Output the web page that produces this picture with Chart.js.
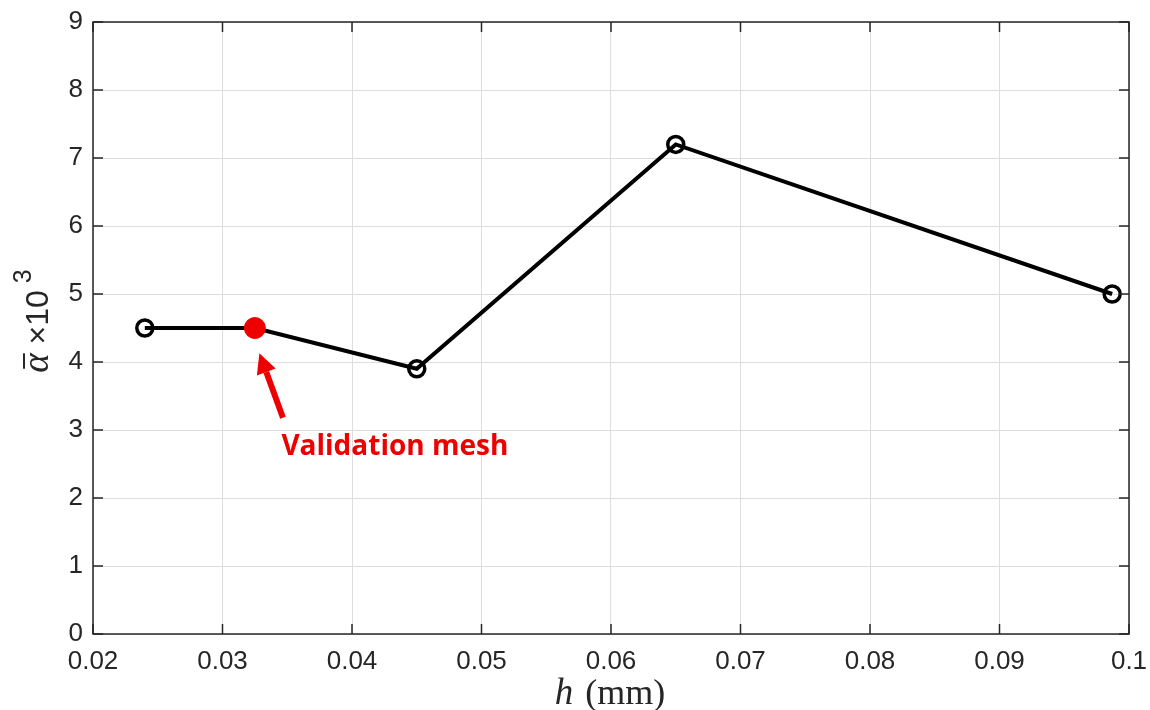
<!DOCTYPE html>
<html>
<head>
<meta charset="utf-8">
<script src="https://cdn.jsdelivr.net/npm/chart.js@4"></script>
<style>
html,body{margin:0;padding:0;background:#fff;}
#wrap{width:1150px;height:710px;position:relative;}
</style>
</head>
<body>
<div id="wrap"><canvas id="c" width="1150" height="710"></canvas></div>
<script>
const hValues = [0.024, 0.0325, 0.045, 0.065, 0.0987];
const alphaValues = [4.5, 4.5, 3.9, 7.2, 5.0];
const validationIndex = 1;
const xTicks = [0.02, 0.03, 0.04, 0.05, 0.06, 0.07, 0.08, 0.09, 0.1];
const yTicks = [0, 1, 2, 3, 4, 5, 6, 7, 8, 9];
const annotationText = "Validation mesh";
const arrowTip = {x: 0.03285, y: 4.13};
const arrowTail = {x: 0.03467, y: 3.18};
const textAnchor = {x: 0.03455, y: 2.75};

const AXIS_COLOR = '#262626';
const RED = '#ee0000';

const boxPlugin = {
  id: 'boxPlugin',
  afterDatasetsDraw(chart) {
    const ctx = chart.ctx;
    const a = chart.chartArea;
    const xs = chart.scales.x, ys = chart.scales.y;
    ctx.save();
    ctx.strokeStyle = AXIS_COLOR;
    ctx.lineWidth = 1.5;
    ctx.strokeRect(a.left, a.top, a.right - a.left, a.bottom - a.top);
    const tl = 10;
    ctx.beginPath();
    xTicks.forEach(v => {
      const px = xs.getPixelForValue(v);
      ctx.moveTo(px, a.bottom); ctx.lineTo(px, a.bottom - tl);
      ctx.moveTo(px, a.top); ctx.lineTo(px, a.top + tl);
    });
    yTicks.forEach(v => {
      const py = ys.getPixelForValue(v);
      ctx.moveTo(a.left, py); ctx.lineTo(a.left + tl, py);
      ctx.moveTo(a.right, py); ctx.lineTo(a.right - tl, py);
    });
    ctx.stroke();

    // arrow
    const tx = xs.getPixelForValue(arrowTip.x), ty = ys.getPixelForValue(arrowTip.y);
    const sx = xs.getPixelForValue(arrowTail.x), sy = ys.getPixelForValue(arrowTail.y);
    const ang = Math.atan2(ty - sy, tx - sx);
    const headLen = 20, headW = 10;
    const bx = tx - headLen * Math.cos(ang), by = ty - headLen * Math.sin(ang);
    ctx.strokeStyle = RED; ctx.fillStyle = RED;
    ctx.lineWidth = 6;
    ctx.beginPath(); ctx.moveTo(sx, sy); ctx.lineTo(bx, by); ctx.stroke();
    ctx.beginPath();
    ctx.moveTo(tx, ty);
    ctx.lineTo(bx + headW * Math.sin(ang), by - headW * Math.cos(ang));
    ctx.lineTo(bx - headW * Math.sin(ang), by + headW * Math.cos(ang));
    ctx.closePath(); ctx.fill();

    // annotation text
    ctx.font = 'bold 28px "Open Sans", "Liberation Sans", sans-serif';
    ctx.textBaseline = 'middle';
    ctx.textAlign = 'left';
    ctx.fillText(annotationText, xs.getPixelForValue(textAnchor.x), ys.getPixelForValue(textAnchor.y));

    // x axis title
    ctx.fillStyle = AXIS_COLOR;
    ctx.textBaseline = 'alphabetic';
    const ityl = 'italic 37px "Liberation Serif", "DejaVu Serif", serif';
    const rom = '36px "Liberation Serif", "DejaVu Serif", serif';
    ctx.font = ityl; const w1 = ctx.measureText('h').width;
    const gap = 12;
    ctx.font = rom; const w2 = ctx.measureText('(mm)').width;
    const cx = 610;
    let x0 = cx - (w1 + gap + w2) / 2;
    const baseY = 704;
    ctx.font = ityl; ctx.fillText('h', x0, baseY);
    ctx.font = rom; ctx.fillText('(mm)', x0 + w1 + gap, baseY);

    // y axis title
    ctx.save();
    ctx.translate(48, 321);
    ctx.rotate(-Math.PI / 2);
    const f1 = 'italic 37px "Liberation Serif", "DejaVu Serif", serif';
    const f2 = '32px "Liberation Sans", Arial, sans-serif';
    const f3 = '25px "Liberation Sans", Arial, sans-serif';
    ctx.font = f1; const wa = ctx.measureText('\u03B1').width;
    ctx.font = f2; const wb = ctx.measureText(' \u00D710').width;
    ctx.font = f3; const wc = ctx.measureText(' 3').width;
    let yx = -(wa + wb + wc) / 2;
    ctx.fillStyle = AXIS_COLOR;
    ctx.font = f1; ctx.fillText('\u03B1', yx, 0);
    ctx.fillRect(yx + 4, -25, wa - 4, 2);
    ctx.font = f2; ctx.fillText(' \u00D710', yx + wa, 0);
    ctx.font = f3; ctx.fillText(' 3', yx + wa + wb, -17);
    ctx.restore();

    ctx.restore();
  }
};

const pts = hValues.map((h, i) => ({x: h, y: alphaValues[i]}));
const bg = hValues.map((_, i) => i === validationIndex ? RED : 'rgba(0,0,0,0)');
const bc = hValues.map((_, i) => i === validationIndex ? RED : '#000000');
const rad = hValues.map((_, i) => i === validationIndex ? 10.5 : 8);
const bw = hValues.map((_, i) => i === validationIndex ? 1 : 3.5);

new Chart(document.getElementById('c'), {
  type: 'scatter',
  data: {
    datasets: [{
      data: pts,
      showLine: true,
      borderColor: '#000000',
      borderWidth: 4,
      pointBackgroundColor: bg,
      pointBorderColor: bc,
      pointRadius: rad,
      pointBorderWidth: bw,
      pointHoverRadius: rad,
      tension: 0
    }]
  },
  options: {
    responsive: false,
    animation: false,
    devicePixelRatio: 1,
    layout: {padding: {left: 0, top: 22, right: 21, bottom: 0}},
    plugins: {legend: {display: false}, tooltip: {enabled: false}},
    scales: {
      x: {
        type: 'linear', min: 0.02, max: 0.1,
        afterBuildTicks(s) { s.ticks = xTicks.map(v => ({value: v})); },
        afterFit(s) { s.height = 76; s.paddingLeft = 0; s.paddingRight = 0; },
        grid: {color: '#dedede', lineWidth: 1, drawTicks: false},
        border: {display: false},
        ticks: {
          padding: 12, color: AXIS_COLOR,
          font: {family: '"Liberation Sans", Arial, sans-serif', size: 26},
          maxRotation: 0, autoSkip: false,
          callback: v => String(parseFloat(v.toFixed(3)))
        }
      },
      y: {
        type: 'linear', min: 0, max: 9,
        afterBuildTicks(s) { s.ticks = yTicks.map(v => ({value: v})); },
        afterFit(s) { s.width = 93; s.paddingTop = 0; s.paddingBottom = 0; },
        grid: {color: '#dedede', lineWidth: 1, drawTicks: false},
        border: {display: false},
        ticks: {
          padding: 10, color: AXIS_COLOR, autoSkip: false,
          font: {family: '"Liberation Sans", Arial, sans-serif', size: 26}
        }
      }
    }
  },
  plugins: [boxPlugin]
});
</script>
</body>
</html>
